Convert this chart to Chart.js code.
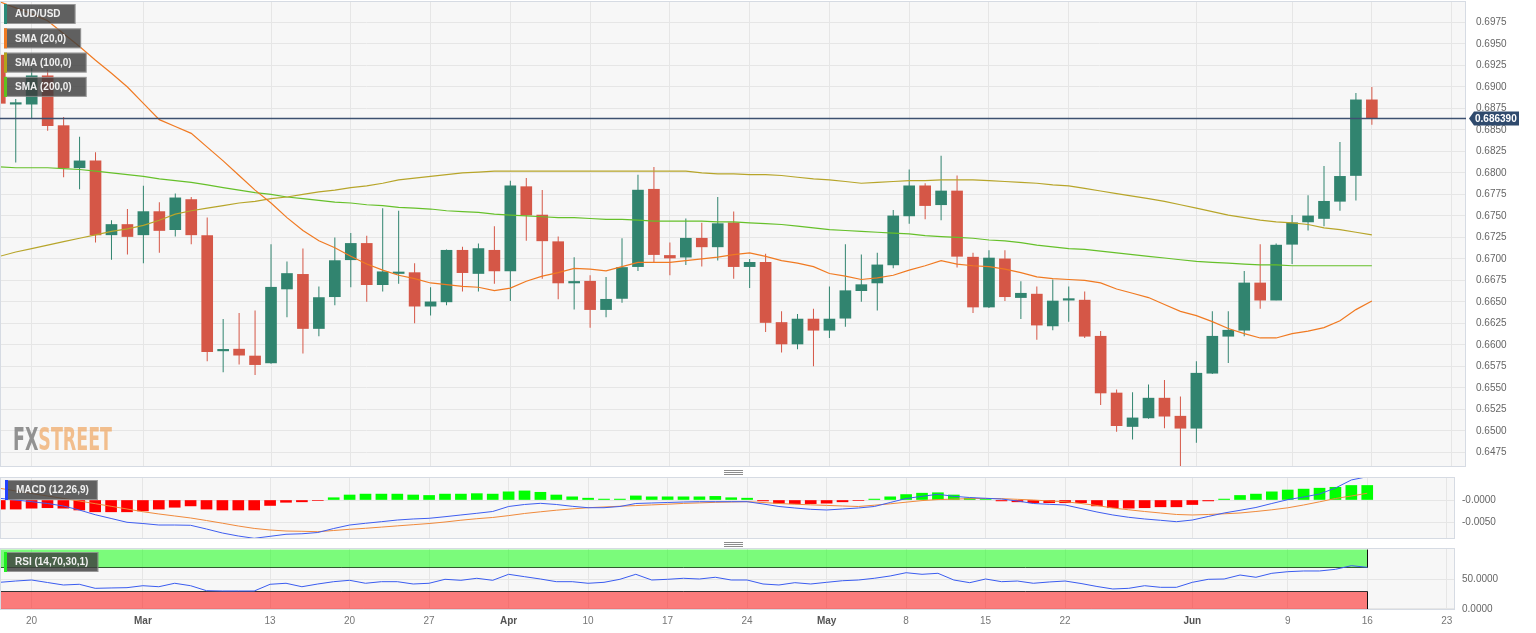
<!DOCTYPE html>
<html>
<head>
<meta charset="utf-8">
<script src="https://cdn.jsdelivr.net/npm/chart.js@4.4.0/dist/chart.umd.min.js"></script>
<style>
  html, body { margin: 0; padding: 0; background: #fff; }
  #wrap { position: relative; width: 1536px; height: 633px; overflow: hidden; }
  .layer { position: absolute; left: 0; top: 0; width: 1536px; height: 633px; }
</style>
</head>
<body>
<div id="wrap">
  <div class="layer"><canvas id="priceChart"></canvas></div>
  <div class="layer"><canvas id="macdChart"></canvas></div>
  <div class="layer"><canvas id="rsiChart"></canvas></div>
</div>
<script>
Chart.defaults.font.family = 'Arial, "Liberation Sans", sans-serif';
Chart.defaults.font.size = 10;

// trading days shown on the chart
const dates = [
  "2023-02-16","2023-02-17","2023-02-20","2023-02-21","2023-02-22","2023-02-23","2023-02-24","2023-02-27","2023-02-28",
  "2023-03-01","2023-03-02","2023-03-03","2023-03-06","2023-03-07","2023-03-08","2023-03-09","2023-03-10","2023-03-13",
  "2023-03-14","2023-03-15","2023-03-16","2023-03-17","2023-03-20","2023-03-21","2023-03-22","2023-03-23","2023-03-24",
  "2023-03-27","2023-03-28","2023-03-29","2023-03-30","2023-03-31",
  "2023-04-03","2023-04-04","2023-04-05","2023-04-06","2023-04-07","2023-04-10","2023-04-11","2023-04-12","2023-04-13",
  "2023-04-14","2023-04-17","2023-04-18","2023-04-19","2023-04-20","2023-04-21","2023-04-24","2023-04-25","2023-04-26",
  "2023-04-27","2023-04-28",
  "2023-05-01","2023-05-02","2023-05-03","2023-05-04","2023-05-05","2023-05-08","2023-05-09","2023-05-10","2023-05-11",
  "2023-05-12","2023-05-15","2023-05-16","2023-05-17","2023-05-18","2023-05-19","2023-05-22","2023-05-23","2023-05-24",
  "2023-05-25","2023-05-26","2023-05-29","2023-05-30","2023-05-31",
  "2023-06-01","2023-06-02","2023-06-05","2023-06-06","2023-06-07","2023-06-08","2023-06-09","2023-06-12","2023-06-13",
  "2023-06-14","2023-06-15","2023-06-16"
];

const openPrices = [
  0.6937, 0.6880, 0.6880, 0.6913, 0.6855, 0.6806, 0.6814, 0.6728, 0.6740, 0.6728,
  0.6755, 0.6734, 0.6769, 0.6727, 0.6593, 0.6595, 0.6587, 0.6579, 0.6665, 0.6682,
  0.6619, 0.6656, 0.6699, 0.6718, 0.6670, 0.6683, 0.6684, 0.6645, 0.6650, 0.6710,
  0.6683, 0.6710, 0.6686, 0.6784, 0.6751, 0.6720, 0.6672, 0.6674, 0.6641, 0.6654,
  0.6691, 0.6781, 0.6704, 0.6702, 0.6724, 0.6714, 0.6742, 0.6691, 0.6696, 0.6626,
  0.6601, 0.6630, 0.6617, 0.6631, 0.6663, 0.6672, 0.6693, 0.6750, 0.6785, 0.6763,
  0.6779, 0.6702, 0.6644, 0.6700, 0.6655, 0.6659, 0.6622, 0.6652, 0.6652, 0.6610,
  0.6544, 0.6505, 0.6515, 0.6538, 0.6517, 0.6503, 0.6567, 0.6610, 0.6617, 0.6672,
  0.6652, 0.6717, 0.6743, 0.6747, 0.6767, 0.6797, 0.6885
];
const highPrices = [
  0.6943, 0.6886, 0.6922, 0.6920, 0.6865, 0.6842, 0.6824, 0.6745, 0.6758, 0.6785,
  0.6766, 0.6776, 0.6772, 0.6748, 0.6630, 0.6637, 0.6640, 0.6717, 0.6697, 0.6712,
  0.6668, 0.6725, 0.6730, 0.6727, 0.6759, 0.6756, 0.6695, 0.6667, 0.6711, 0.6714,
  0.6718, 0.6738, 0.6791, 0.6794, 0.6780, 0.6726, 0.6702, 0.6681, 0.6679, 0.6724,
  0.6798, 0.6807, 0.6719, 0.6747, 0.6742, 0.6772, 0.6755, 0.6700, 0.6706, 0.6639,
  0.6636, 0.6642, 0.6668, 0.6717, 0.6705, 0.6707, 0.6757, 0.6804, 0.6788, 0.6820,
  0.6797, 0.6707, 0.6710, 0.6710, 0.6674, 0.6668, 0.6676, 0.6668, 0.6662, 0.6616,
  0.6548, 0.6545, 0.6554, 0.6559, 0.6540, 0.6581, 0.6639, 0.6639, 0.6686, 0.6717,
  0.6718, 0.6751, 0.6774, 0.6808, 0.6836, 0.6893, 0.6900
];
const lowPrices = [
  0.6842, 0.6812, 0.6864, 0.6849, 0.6795, 0.6781, 0.6719, 0.6699, 0.6705, 0.6695,
  0.6707, 0.6726, 0.6717, 0.6581, 0.6568, 0.6577, 0.6565, 0.6578, 0.6632, 0.6590,
  0.6610, 0.6646, 0.6667, 0.6650, 0.6662, 0.6671, 0.6625, 0.6634, 0.6646, 0.6662,
  0.6662, 0.6671, 0.6651, 0.6721, 0.6677, 0.6653, 0.6641, 0.6620, 0.6632, 0.6649,
  0.6686, 0.6696, 0.6681, 0.6693, 0.6691, 0.6698, 0.6677, 0.6666, 0.6615, 0.6591,
  0.6595, 0.6575, 0.6608, 0.6621, 0.6650, 0.6640, 0.6689, 0.6741, 0.6746, 0.6745,
  0.6690, 0.6637, 0.6643, 0.6651, 0.6630, 0.6606, 0.6617, 0.6627, 0.6608, 0.6530,
  0.6499, 0.6490, 0.6514, 0.6503, 0.6458, 0.6486, 0.6566, 0.6579, 0.6610, 0.6642,
  0.6652, 0.6694, 0.6733, 0.6738, 0.6756, 0.6768, 0.6856
];
const closePrices = [
  0.6881, 0.6881, 0.6913, 0.6855, 0.6806, 0.6814, 0.6728, 0.6740, 0.6726, 0.6755,
  0.6733, 0.6771, 0.6728, 0.6592, 0.6594, 0.6588, 0.6577, 0.6667, 0.6683, 0.6619,
  0.6655, 0.6698, 0.6718, 0.6670, 0.6685, 0.6684, 0.6645, 0.6650, 0.6710, 0.6684,
  0.6712, 0.6686, 0.6785, 0.6751, 0.6721, 0.6672, 0.6673, 0.6641, 0.6653, 0.6690,
  0.6780, 0.6705, 0.6701, 0.6724, 0.6714, 0.6741, 0.6691, 0.6696, 0.6626, 0.6601,
  0.6630, 0.6617, 0.6630, 0.6663, 0.6670, 0.6693, 0.6750, 0.6785, 0.6762, 0.6779,
  0.6703, 0.6644, 0.6701, 0.6656, 0.6660, 0.6623, 0.6651, 0.6653, 0.6610, 0.6544,
  0.6506, 0.6515, 0.6538, 0.6517, 0.6503, 0.6567, 0.6610, 0.6617, 0.6672, 0.6652,
  0.6716, 0.6742, 0.6750, 0.6767, 0.6796, 0.6885, 0.68639
];

const sma20 = [
  0.6999, 0.6992, 0.6985, 0.6977, 0.6962, 0.6947, 0.6931, 0.6916, 0.6900, 0.6881,
  0.6862, 0.6854, 0.6846, 0.6830, 0.6814, 0.6797, 0.6780, 0.6765, 0.6748, 0.6733,
  0.6721, 0.6713, 0.6703, 0.6694, 0.6687, 0.6681, 0.6677, 0.6672, 0.6670, 0.6668,
  0.6667, 0.6663, 0.6666, 0.6674, 0.6680, 0.6684, 0.6689, 0.6688, 0.6686, 0.6691,
  0.6696, 0.6696, 0.6696, 0.6698, 0.6700, 0.6702, 0.6705, 0.6707, 0.6703, 0.6698,
  0.6695, 0.6691, 0.6683, 0.6680, 0.6676, 0.6678, 0.6681, 0.6687, 0.6692, 0.6698,
  0.6694, 0.6692, 0.6691, 0.6688, 0.6684, 0.6679, 0.6677, 0.6676, 0.6675, 0.6672,
  0.6665, 0.6660, 0.6655, 0.6647, 0.6639, 0.6634, 0.6627, 0.6619, 0.6613, 0.6608,
  0.6608, 0.6613, 0.6616, 0.6620, 0.6628, 0.6641, 0.6651
];
const sma100 = [
  0.6703, 0.6708, 0.6712, 0.6716, 0.6720, 0.6724, 0.6728, 0.6732, 0.6735, 0.6739,
  0.6745, 0.6752, 0.6756, 0.6759, 0.6762, 0.6765, 0.6767, 0.6770, 0.6772, 0.6775,
  0.6778, 0.6780, 0.6783, 0.6785, 0.6788, 0.6792, 0.6794, 0.6796, 0.6798, 0.6800,
  0.6801, 0.6802, 0.6802, 0.6802, 0.6802, 0.6802, 0.6802, 0.6802, 0.6802, 0.6802,
  0.6802, 0.6802, 0.6802, 0.6802, 0.6800, 0.6799, 0.6799, 0.6798, 0.6798, 0.6797,
  0.6795, 0.6793, 0.6792, 0.6790, 0.6788, 0.6789, 0.6790, 0.6791, 0.6791, 0.6792,
  0.6792, 0.6792, 0.6791, 0.6790, 0.6789, 0.6788, 0.6786, 0.6785, 0.6782, 0.6779,
  0.6776, 0.6773, 0.6770, 0.6767, 0.6763, 0.6759, 0.6755, 0.6751, 0.6748, 0.6745,
  0.6743, 0.6742, 0.6740, 0.6736, 0.6734, 0.6731, 0.6728
];
const sma200 = [
  0.6807, 0.6806, 0.6806, 0.6806, 0.6805, 0.6804, 0.6802, 0.6800, 0.6798, 0.6796,
  0.6793, 0.6791, 0.6789, 0.6786, 0.6783, 0.6780, 0.6777, 0.6775, 0.6772, 0.6770,
  0.6768, 0.6766, 0.6765, 0.6763, 0.6762, 0.6760, 0.6759, 0.6758, 0.6756, 0.6755,
  0.6754, 0.6752, 0.6751, 0.6750, 0.6749, 0.6748, 0.6748, 0.6747, 0.6746, 0.6746,
  0.6745, 0.6744, 0.6744, 0.6744, 0.6744, 0.6743, 0.6743, 0.6742, 0.6741, 0.6740,
  0.6738, 0.6736, 0.6734, 0.6733, 0.6732, 0.6731, 0.6730, 0.6729, 0.6727, 0.6726,
  0.6725, 0.6724, 0.6722, 0.6721, 0.6719, 0.6716, 0.6714, 0.6712, 0.6711, 0.6709,
  0.6707, 0.6705, 0.6703, 0.6701, 0.6699, 0.6697, 0.6696, 0.6695, 0.6694, 0.6693,
  0.6693, 0.6692, 0.6692, 0.6692, 0.6692, 0.6692, 0.6692
];

const macdLine = [
  0.00037, 0.00000, -0.00037, -0.00077, -0.00132, -0.00220, -0.00324, -0.00407, -0.00491, -0.00518,
  -0.00551, -0.00551, -0.00557, -0.00639, -0.00727, -0.00793, -0.00844, -0.00800, -0.00755, -0.00744,
  -0.00716, -0.00628, -0.00551, -0.00513, -0.00478, -0.00441, -0.00418, -0.00403, -0.00368, -0.00330,
  -0.00293, -0.00253, -0.00143, -0.00099, -0.00073, -0.00099, -0.00139, -0.00170, -0.00170, -0.00143,
  -0.00077, -0.00066, -0.00055, -0.00044, -0.00037, -0.00037, -0.00037, -0.00037, -0.00088, -0.00143,
  -0.00176, -0.00205, -0.00220, -0.00198, -0.00176, -0.00143, -0.00055, 0.00033, 0.00081, 0.00126,
  0.00081, 0.00055, 0.00037, 0.00022, -0.00022, -0.00077, -0.00095, -0.00110, -0.00187, -0.00264,
  -0.00330, -0.00381, -0.00418, -0.00447, -0.00478, -0.00441, -0.00363, -0.00286, -0.00227, -0.00165,
  -0.00077, 0.00007, 0.00066, 0.00132, 0.00264, 0.00441, 0.00513
];
const macdSignal = [
  0.00258, 0.00198, 0.00143, 0.00088, 0.00033, -0.00022, -0.00081, -0.00139, -0.00198, -0.00258,
  -0.00308, -0.00352, -0.00396, -0.00452, -0.00511, -0.00573, -0.00626, -0.00661, -0.00683, -0.00689,
  -0.00698, -0.00672, -0.00645, -0.00623, -0.00597, -0.00570, -0.00544, -0.00518, -0.00485, -0.00445,
  -0.00412, -0.00385, -0.00344, -0.00297, -0.00260, -0.00225, -0.00196, -0.00170, -0.00154, -0.00137,
  -0.00123, -0.00108, -0.00093, -0.00075, -0.00064, -0.00051, -0.00044, -0.00037, -0.00055, -0.00077,
  -0.00093, -0.00106, -0.00119, -0.00132, -0.00143, -0.00115, -0.00084, -0.00048, -0.00013, 0.00009,
  0.00020, 0.00029, 0.00035, 0.00029, 0.00015, 0.00000, -0.00022, -0.00037, -0.00077, -0.00121,
  -0.00176, -0.00216, -0.00253, -0.00286, -0.00319, -0.00330, -0.00319, -0.00304, -0.00286, -0.00253,
  -0.00216, -0.00172, -0.00110, -0.00040, 0.00033, 0.00088, 0.00148
];
const macdHist = [
  -0.0020, -0.0020, -0.0018, -0.0017, -0.0018, -0.0022, -0.0026, -0.0026, -0.0026, -0.0024,
  -0.0020, -0.0016, -0.0013, -0.0020, -0.0022, -0.0022, -0.0022, -0.0012, -0.0005, -0.0004,
  -0.0001, 0.0005, 0.0011, 0.0013, 0.0013, 0.0013, 0.0011, 0.0010, 0.0013, 0.0013,
  0.0014, 0.0013, 0.0018, 0.0020, 0.0017, 0.0011, 0.0007, 0.0004, 0.0002, 0.0002,
  0.0009, 0.0007, 0.0007, 0.0007, 0.0007, 0.0008, 0.0005, 0.0004, -0.0002, -0.0007,
  -0.0008, -0.0008, -0.0007, -0.0004, -0.0001, 0.0002, 0.0007, 0.0012, 0.0015, 0.0016,
  0.0011, 0.0004, 0.0001, -0.0002, -0.0004, -0.0006, -0.0006, -0.0006, -0.0006, -0.0013,
  -0.0017, -0.0018, -0.0017, -0.0015, -0.0015, -0.0010, -0.0002, 0.0002, 0.0010, 0.0013,
  0.0018, 0.0022, 0.0024, 0.0026, 0.0028, 0.0032, 0.0032
];

const rsiValues = [
  44.9, 47.1, 48.8, 44.6, 40.4, 41.6, 34.8, 35.4, 35.9, 39.2,
  37.5, 43.3, 39.2, 30.8, 30.3, 30.3, 30.3, 41.6, 43.3, 37.5,
  42.1, 46.0, 48.3, 43.3, 46.0, 46.0, 42.1, 43.3, 50.0, 48.3,
  51.7, 48.3, 58.4, 54.4, 50.5, 46.0, 46.0, 43.3, 44.9, 50.0,
  58.4, 48.8, 50.0, 51.7, 50.5, 53.4, 48.8, 48.8, 42.1, 40.4,
  44.3, 42.1, 44.9, 47.6, 48.8, 51.7, 55.6, 61.1, 58.4, 60.1,
  48.8, 44.3, 50.5, 46.0, 47.1, 43.3, 45.5, 47.1, 42.9, 37.9,
  33.7, 34.8, 39.2, 36.5, 36.5, 44.9, 50.0, 50.5, 57.2, 53.4,
  60.1, 62.8, 64.0, 64.0, 66.8, 72.9, 70.2
];

// axis ticks (x values are positions in the dates array; 91 is the week after the last candle)
const xTickIndex = [2, 9, 17, 22, 27, 32, 37, 42, 47, 52, 57, 62, 67, 75, 81, 86, 91];
const xTickLabels = ["20", "Mar", "13", "20", "27", "Apr", "10", "17", "24", "May", "8", "15", "22", "Jun", "9", "16", "23"];
const monthLabels = ["Mar", "Apr", "May", "Jun"];
const priceTicks = [0.6475, 0.6500, 0.6525, 0.6550, 0.6575, 0.6600, 0.6625, 0.6650, 0.6675, 0.6700,
  0.6725, 0.6750, 0.6775, 0.6800, 0.6825, 0.6850, 0.6875, 0.6900, 0.6925, 0.6950, 0.6975];
const macdTicks = [-0.005, 0];
const macdTickLabels = ["-0.0050", "-0.0000"];
const rsiTicks = [0, 50];
const rsiTickLabels = ["0.0000", "50.0000"];
const rsiUpper = 70;
const rsiLower = 30;
const currentPrice = 0.686390;

// styles
const UP = '#31846f', DOWN = '#d55747';
const PLOT_BG = '#f7f7f7', FRAME = '#d6dbe3', GRID = '#e6e6e6';
const TAG_FONT = 'bold 10px Arial, "Liberation Sans", sans-serif';

const xy = arr => arr.map((v, k) => ({ x: k, y: v }));
const candleColors = openPrices.map((o, k) => closePrices[k] >= o ? UP : DOWN);

function drawTag(ctx, x, y, text, strip, padRight) {
  ctx.save();
  ctx.font = TAG_FONT;
  const w = 11 + ctx.measureText(text).width + padRight;
  ctx.fillStyle = 'rgba(62,62,62,0.82)';
  ctx.fillRect(x, y, w, 20);
  ctx.strokeStyle = 'rgba(255,255,255,0.35)';
  ctx.strokeRect(x + 0.5, y + 0.5, w - 1, 19);
  ctx.fillStyle = strip;
  ctx.fillRect(x, y, 3, 20);
  ctx.fillStyle = '#f0f0f0';
  ctx.textBaseline = 'middle';
  ctx.fillText(text, x + 11, y + 10.5);
  ctx.restore();
}

function plotBox(ctx, area) {
  ctx.save();
  ctx.fillStyle = PLOT_BG;
  ctx.fillRect(area.left, area.top, area.right - area.left, area.bottom - area.top);
  ctx.restore();
}

function plotFrame(ctx, area) {
  ctx.save();
  ctx.strokeStyle = FRAME;
  ctx.lineWidth = 1;
  ctx.strokeRect(area.left + 0.5, area.top + 0.5, area.right - area.left - 1, area.bottom - area.top - 1);
  ctx.restore();
}

function xScale(max, showLabels) {
  return {
    type: 'linear', min: 0.013, max: max, offset: false,
    grid: { color: GRID, drawTicks: false, offset: false },
    border: { display: false },
    ticks: {
      display: showLabels, autoSkip: false, maxRotation: 0, padding: 5,
      color: c => monthLabels.includes(xTickLabels[c.index]) ? '#555' : '#777',
      font: c => monthLabels.includes(xTickLabels[c.index]) ? { size: 10, weight: 'bold' } : { size: 10 },
      callback: (v, i) => xTickLabels[i]
    },
    afterBuildTicks: s => { s.ticks = xTickIndex.map(v => ({ value: v })); },
    afterFit: s => { s.height = showLabels ? 23 : 0; s.paddingLeft = 0; s.paddingRight = 0; }
  };
}

function yScale(min, max, ticks, labels, width, pad) {
  return {
    position: 'right', min: min, max: max, beginAtZero: false,
    grid: { color: GRID, drawTicks: false },
    border: { display: false },
    ticks: { padding: pad, color: '#666', font: { size: 10 }, callback: (v, i) => labels ? labels[i] : v.toFixed(4) },
    afterBuildTicks: s => { s.ticks = ticks.map(v => ({ value: v })); },
    afterFit: s => { s.width = width; s.paddingTop = 0; s.paddingBottom = 0; }
  };
}

// ---------- price panel ----------
const pricePlugin = {
  id: 'pricePanel',
  beforeDraw(chart) { plotBox(chart.ctx, chart.chartArea); },
  beforeDatasetsDraw(chart) {
    const ctx = chart.ctx;
    ctx.save();
    ctx.font = 'bold 32px "Liberation Sans Narrow", "DejaVu Sans Condensed", Arial, sans-serif';
    const wF = ctx.measureText('FX').width, wS = ctx.measureText('STREET').width;
    ctx.translate(13, 450);
    ctx.scale(99 / (wF + wS), 1);
    ctx.fillStyle = 'rgba(128,128,128,0.85)';
    ctx.fillText('FX', 0, 0);
    ctx.fillStyle = 'rgba(240,165,95,0.7)';
    ctx.fillText('STREET', wF, 0);
    ctx.restore();
  },
  afterDraw(chart) {
    const ctx = chart.ctx, a = chart.chartArea;
    plotFrame(ctx, a);
    const py = Math.round(chart.scales.y.getPixelForValue(currentPrice)) + 0.5;
    ctx.save();
    ctx.strokeStyle = '#3d5170';
    ctx.lineWidth = 1.5;
    ctx.beginPath(); ctx.moveTo(a.left, py); ctx.lineTo(a.right, py); ctx.stroke();
    ctx.fillStyle = '#2f4a6d';
    ctx.beginPath();
    ctx.moveTo(a.right + 3, py);
    ctx.lineTo(a.right + 8, py - 7);
    ctx.lineTo(a.right + 53, py - 7);
    ctx.lineTo(a.right + 53, py + 7);
    ctx.lineTo(a.right + 8, py + 7);
    ctx.closePath(); ctx.fill();
    ctx.fillStyle = '#ffffff';
    ctx.font = TAG_FONT;
    ctx.textBaseline = 'middle';
    ctx.fillText(currentPrice.toFixed(6), a.right + 9, py + 0.5);
    ctx.restore();
    const tags = [['AUD/USD', '#2a8a78'], ['SMA (20,0)', '#f07a22'], ['SMA (100,0)', '#b3a21c'], ['SMA (200,0)', '#5fbf1f']];
    tags.forEach((t, n) => drawTag(ctx, 4, 4 + n * 24.3, t[0], t[1], 15));
  }
};

new Chart(document.getElementById('priceChart'), {
  type: 'bar',
  data: {
    datasets: [
      { type: 'line', label: 'SMA (20,0)', data: xy(sma20), borderColor: '#f07a22', borderWidth: 1.2, pointRadius: 0, order: 0 },
      { type: 'line', label: 'SMA (100,0)', data: xy(sma100), borderColor: '#b7a52a', borderWidth: 1.2, pointRadius: 0, order: 0 },
      { type: 'line', label: 'SMA (200,0)', data: xy(sma200), borderColor: '#66c02a', borderWidth: 1.2, pointRadius: 0, order: 0 },
      { label: 'body', data: openPrices.map((o, k) => ({ x: k, y: [o, closePrices[k]] })),
        backgroundColor: candleColors, barThickness: 11, minBarLength: 1.5, grouped: false, order: 1 },
      { label: 'wick', data: lowPrices.map((l, k) => ({ x: k, y: [l, highPrices[k]] })),
        backgroundColor: candleColors, barThickness: 1, inflateAmount: 0, grouped: false, order: 2 }
    ]
  },
  options: {
    responsive: true, maintainAspectRatio: false, animation: false,
    layout: { padding: { top: 1, bottom: 166, left: 0, right: 0 }, autoPadding: false },
    plugins: { legend: { display: false }, tooltip: { enabled: false } },
    scales: {
      x: xScale(91.9, false),
      y: yScale(0.64579, 0.70000, priceTicks, null, 70, 10)
    }
  },
  plugins: [pricePlugin]
});

// ---------- MACD panel ----------
const macdPlugin = {
  id: 'macdPanel',
  beforeDraw(chart) { plotBox(chart.ctx, chart.chartArea); },
  afterDraw(chart) {
    const ctx = chart.ctx;
    plotFrame(ctx, chart.chartArea);
    drawTag(ctx, 5, 480, 'MACD (12,26,9)', '#2040ff', 9);
    ctx.save();
    ctx.strokeStyle = '#8c8c8c';
    ctx.lineWidth = 1;
    [470, 542].forEach(y0 => {
      for (let j = 0; j < 3; j++) {
        ctx.beginPath(); ctx.moveTo(724, y0 + j * 2 + 0.5); ctx.lineTo(743, y0 + j * 2 + 0.5); ctx.stroke();
      }
    });
    ctx.restore();
  }
};

new Chart(document.getElementById('macdChart'), {
  type: 'bar',
  data: {
    datasets: [
      { type: 'line', label: 'MACD', data: xy(macdLine), borderColor: '#3f5ef0', borderWidth: 1, pointRadius: 0, order: 0 },
      { type: 'line', label: 'Signal', data: xy(macdSignal), borderColor: '#f08a3c', borderWidth: 1, pointRadius: 0, order: 0 },
      { label: 'Histogram', data: xy(macdHist), backgroundColor: macdHist.map(v => v >= 0 ? '#00ff00' : '#ff0000'),
        barThickness: 11, grouped: false, order: 1 }
    ]
  },
  options: {
    responsive: true, maintainAspectRatio: false, animation: false,
    layout: { padding: { top: 477, bottom: 94, left: 0, right: 0 }, autoPadding: false },
    plugins: { legend: { display: false }, tooltip: { enabled: false } },
    scales: {
      x: xScale(91.52, false),
      y: yScale(-0.00859, 0.005066, macdTicks, macdTickLabels, 81, 7)
    }
  },
  plugins: [macdPlugin]
});

// ---------- RSI panel ----------
const rsiPlugin = {
  id: 'rsiPanel',
  beforeDraw(chart) { plotBox(chart.ctx, chart.chartArea); },
  beforeDatasetsDraw(chart) {
    const ctx = chart.ctx, a = chart.chartArea, x = chart.scales.x, y = chart.scales.y;
    const xr = Math.round(x.getPixelForValue(rsiValues.length - 1)) + 0.5;
    const y100 = y.getPixelForValue(100), yU = Math.round(y.getPixelForValue(rsiUpper)) + 0.5;
    const yL = Math.round(y.getPixelForValue(rsiLower)) + 0.5, y0 = y.getPixelForValue(0);
    ctx.save();
    ctx.fillStyle = 'rgba(0,255,0,0.5)';
    ctx.fillRect(a.left, y100, xr - a.left, yU - y100);
    ctx.fillStyle = 'rgba(255,0,0,0.5)';
    ctx.fillRect(a.left, yL, xr - a.left, y0 - yL);
    ctx.lineWidth = 1;
    ctx.strokeStyle = '#2f5a2f';
    ctx.beginPath(); ctx.moveTo(a.left, yU); ctx.lineTo(xr, yU); ctx.stroke();
    ctx.strokeStyle = '#333333';
    ctx.beginPath(); ctx.moveTo(a.left, yL); ctx.lineTo(xr, yL); ctx.stroke();
    ctx.strokeStyle = '#111111';
    ctx.beginPath(); ctx.moveTo(xr, y100); ctx.lineTo(xr, yU); ctx.moveTo(xr, yL); ctx.lineTo(xr, y0); ctx.stroke();
    ctx.restore();
  },
  afterDraw(chart) {
    plotFrame(chart.ctx, chart.chartArea);
    drawTag(chart.ctx, 4, 552, 'RSI (14,70,30,1)', '#22ee22', 10);
  }
};

new Chart(document.getElementById('rsiChart'), {
  type: 'line',
  data: {
    datasets: [
      { label: 'RSI', data: xy(rsiValues), borderColor: '#3a5cf0', borderWidth: 1, pointRadius: 0 }
    ]
  },
  options: {
    responsive: true, maintainAspectRatio: false, animation: false,
    layout: { padding: { top: 548, bottom: 0, left: 0, right: 0 }, autoPadding: false },
    plugins: { legend: { display: false }, tooltip: { enabled: false } },
    scales: {
      x: xScale(91.52, true),
      y: yScale(-1.7, 102.7, rsiTicks, rsiTickLabels, 81, 7)
    }
  },
  plugins: [rsiPlugin]
});
</script>
</body>
</html>
